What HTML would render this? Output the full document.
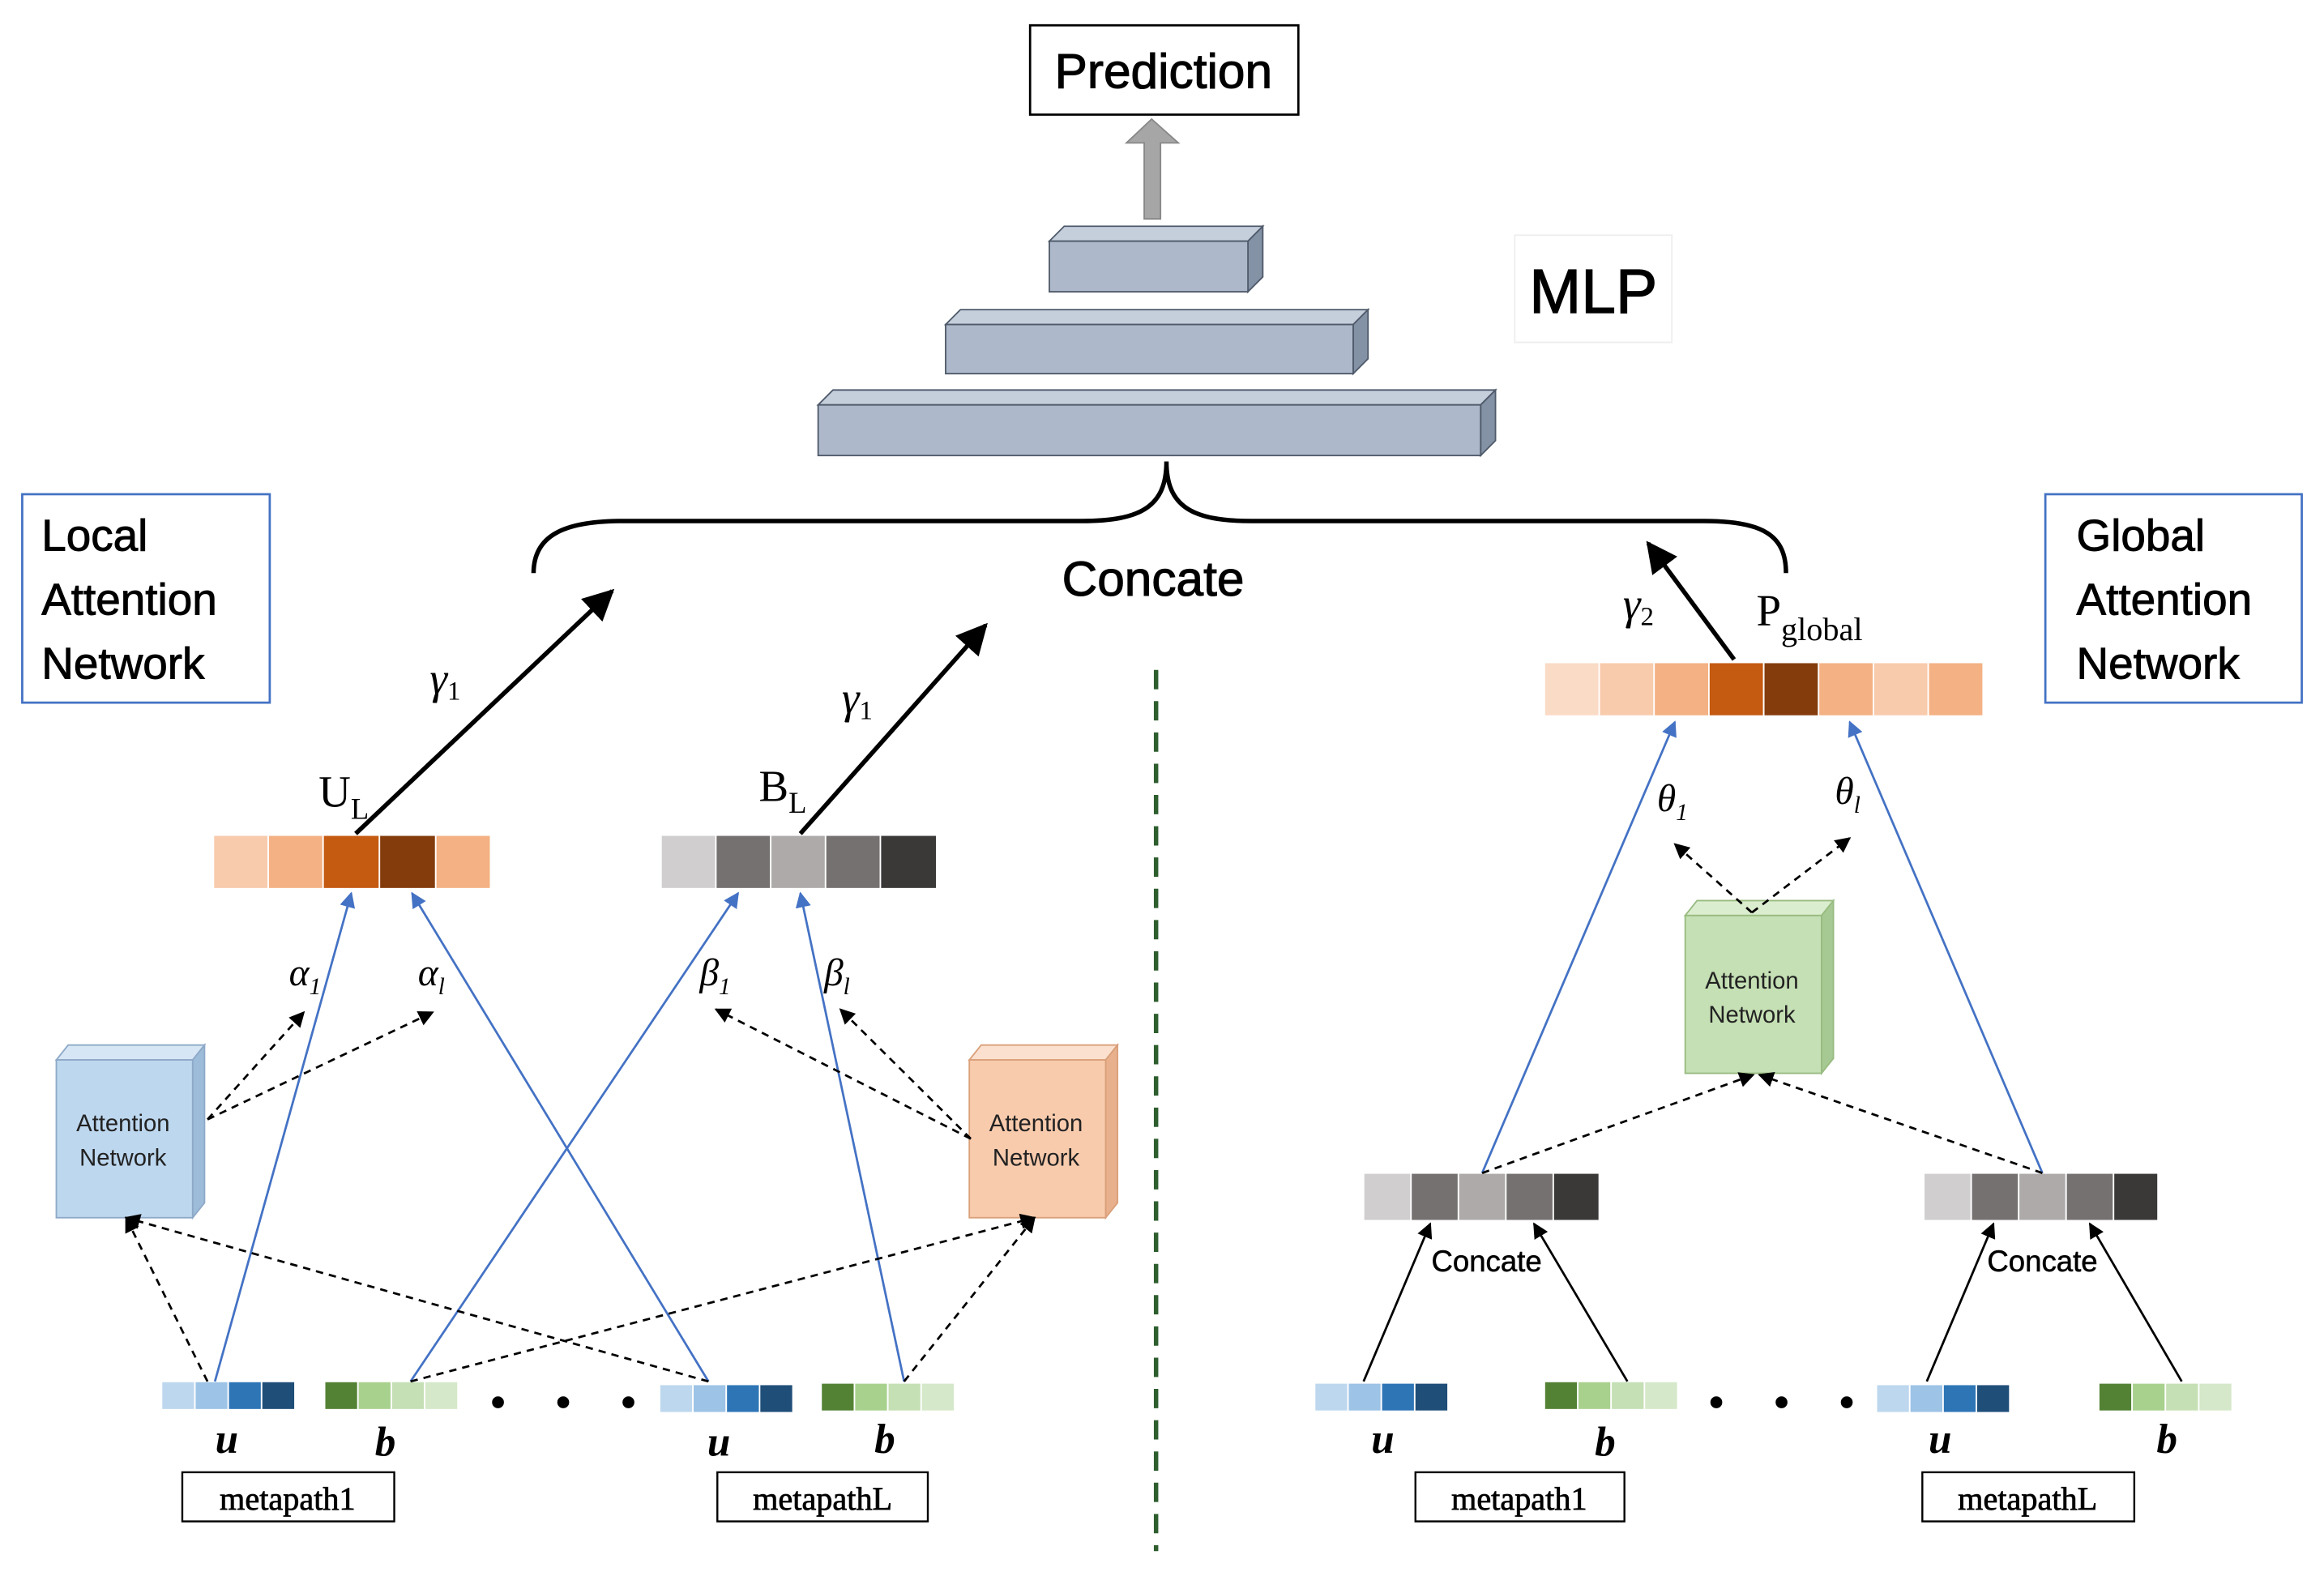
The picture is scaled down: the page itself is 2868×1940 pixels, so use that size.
<!DOCTYPE html>
<html><head><meta charset="utf-8"><style>
html,body{margin:0;padding:0;background:#fff;}
svg{display:block;}
.s{font-family:"Liberation Sans",sans-serif;}
.r{font-family:"Liberation Serif",serif;}
</style></head><body>
<svg width="2868" height="1940" viewBox="0 0 1568 1056" preserveAspectRatio="none" xmlns="http://www.w3.org/2000/svg">
<defs>
<marker id="ab" viewBox="0 0 10 10" refX="9" refY="5" markerWidth="7" markerHeight="7" orient="auto"><path d="M0,0L10,5L0,10z" fill="#000"/></marker>
<marker id="abl" viewBox="0 0 10 10" refX="9" refY="5" markerWidth="7" markerHeight="7" orient="auto"><path d="M0,0L10,5L0,10z" fill="#4472c4"/></marker>
</defs>
<rect width="1568" height="1056" fill="#fff"/>
<rect x="695" y="17" width="181" height="60" fill="#fff" stroke="#000" stroke-width="1.5"/>
<text x="785" y="59" class="s" font-size="33" text-anchor="middle" stroke="#000" stroke-width="0.6">Prediction</text>
<path d="M772,147V96H760L777,80L795,96H783V147Z" fill="#a6a6a6" stroke="#888" stroke-width="1"/>
<g fill="#adb9ca" stroke="#4f5a6a" stroke-width="1">
<path d="M708,162l10,-10h134l-10,10z" fill="#c5cfdc"/><path d="M842,162l10,-10v34l-10,10z" fill="#8492a6"/><rect x="708" y="162" width="134" height="34"/>
<path d="M638,218l10,-10h275l-10,10z" fill="#c5cfdc"/><path d="M913,218l10,-10v33l-10,10z" fill="#8492a6"/><rect x="638" y="218" width="275" height="33"/>
<path d="M552,272l10,-10h447l-10,10z" fill="#c5cfdc"/><path d="M999,272l10,-10v34l-10,10z" fill="#8492a6"/><rect x="552" y="272" width="447" height="34"/>
</g>
<rect x="1022" y="158" width="106" height="72" fill="#fff" stroke="#eee"/>
<text x="1075" y="210" class="s" font-size="42" text-anchor="middle" stroke="#000" stroke-width="0.7">MLP</text>
<path d="M360,385C360,360 380,350 420,350H730C770,350 787,340 787,310C787,340 804,350 844,350H1150C1190,350 1205,360 1205,385" fill="none" stroke="#000" stroke-width="3"/>
<text x="778" y="400" class="s" font-size="33" text-anchor="middle" stroke="#000" stroke-width="0.6">Concate</text>
<rect x="15" y="332" width="167" height="140" fill="#fff" stroke="#4472c4" stroke-width="1.5"/>
<text class="s" font-size="30" stroke="#000" stroke-width="0.5"><tspan x="28" y="370">Local</tspan><tspan x="28" y="413">Attention</tspan><tspan x="28" y="456">Network</tspan></text>
<rect x="1380" y="332" width="173" height="140" fill="#fff" stroke="#4472c4" stroke-width="1.5"/>
<text class="s" font-size="30" stroke="#000" stroke-width="0.5"><tspan x="1401" y="370">Global</tspan><tspan x="1401" y="413">Attention</tspan><tspan x="1401" y="456">Network</tspan></text>
<line x1="780" y1="450" x2="780" y2="1042" stroke="#2e5e2e" stroke-width="3" stroke-dasharray="13,8"/>
<g stroke="#fff" stroke-width="1">
<rect x="144" y="561" width="37" height="36" fill="#f8cbad"/><rect x="181" y="561" width="37" height="36" fill="#f4b183"/><rect x="218" y="561" width="38" height="36" fill="#c55a11"/><rect x="256" y="561" width="38" height="36" fill="#843c0c"/><rect x="294" y="561" width="37" height="36" fill="#f4b183"/>
<rect x="446" y="561" width="37" height="36" fill="#d0cece"/><rect x="483" y="561" width="37" height="36" fill="#767171"/><rect x="520" y="561" width="37" height="36" fill="#aeaaaa"/><rect x="557" y="561" width="37" height="36" fill="#767171"/><rect x="594" y="561" width="38" height="36" fill="#3b3838"/>
<rect x="1042" y="445" width="37" height="36" fill="#fadbc6"/><rect x="1079" y="445" width="37" height="36" fill="#f8cbad"/><rect x="1116" y="445" width="37" height="36" fill="#f4b183"/><rect x="1153" y="445" width="37" height="36" fill="#c55a11"/><rect x="1190" y="445" width="37" height="36" fill="#843c0c"/><rect x="1227" y="445" width="37" height="36" fill="#f4b183"/><rect x="1264" y="445" width="37" height="36" fill="#f8cbad"/><rect x="1301" y="445" width="37" height="36" fill="#f4b183"/>
<rect x="920" y="788" width="32" height="32" fill="#d0cece"/><rect x="952" y="788" width="32" height="32" fill="#767171"/><rect x="984" y="788" width="32" height="32" fill="#aeaaaa"/><rect x="1016" y="788" width="32" height="32" fill="#767171"/><rect x="1048" y="788" width="31" height="32" fill="#3b3838"/>
<rect x="1298" y="788" width="32" height="32" fill="#d0cece"/><rect x="1330" y="788" width="32" height="32" fill="#767171"/><rect x="1362" y="788" width="32" height="32" fill="#aeaaaa"/><rect x="1394" y="788" width="32" height="32" fill="#767171"/><rect x="1426" y="788" width="30" height="32" fill="#3b3838"/>
</g>
<g stroke="#fff" stroke-width="1">
<g transform="translate(109,928)"><rect width="22.5" height="19" fill="#bdd7ee"/><rect x="22.5" width="22.5" height="19" fill="#9dc3e6"/><rect x="45" width="22.5" height="19" fill="#2e75b6"/><rect x="67.5" width="22.5" height="19" fill="#1f4e79"/></g>
<g transform="translate(445,930)"><rect width="22.5" height="19" fill="#bdd7ee"/><rect x="22.5" width="22.5" height="19" fill="#9dc3e6"/><rect x="45" width="22.5" height="19" fill="#2e75b6"/><rect x="67.5" width="22.5" height="19" fill="#1f4e79"/></g>
<g transform="translate(887,929)"><rect width="22.5" height="19" fill="#bdd7ee"/><rect x="22.5" width="22.5" height="19" fill="#9dc3e6"/><rect x="45" width="22.5" height="19" fill="#2e75b6"/><rect x="67.5" width="22.5" height="19" fill="#1f4e79"/></g>
<g transform="translate(1266,930)"><rect width="22.5" height="19" fill="#bdd7ee"/><rect x="22.5" width="22.5" height="19" fill="#9dc3e6"/><rect x="45" width="22.5" height="19" fill="#2e75b6"/><rect x="67.5" width="22.5" height="19" fill="#1f4e79"/></g>
<g transform="translate(219,928)"><rect width="22.5" height="19" fill="#548235"/><rect x="22.5" width="22.5" height="19" fill="#a9d18e"/><rect x="45" width="22.5" height="19" fill="#c5e0b4"/><rect x="67.5" width="22.5" height="19" fill="#d5e8c9"/></g>
<g transform="translate(554,929)"><rect width="22.5" height="19" fill="#548235"/><rect x="22.5" width="22.5" height="19" fill="#a9d18e"/><rect x="45" width="22.5" height="19" fill="#c5e0b4"/><rect x="67.5" width="22.5" height="19" fill="#d5e8c9"/></g>
<g transform="translate(1042,928)"><rect width="22.5" height="19" fill="#548235"/><rect x="22.5" width="22.5" height="19" fill="#a9d18e"/><rect x="45" width="22.5" height="19" fill="#c5e0b4"/><rect x="67.5" width="22.5" height="19" fill="#d5e8c9"/></g>
<g transform="translate(1416,929)"><rect width="22.5" height="19" fill="#548235"/><rect x="22.5" width="22.5" height="19" fill="#a9d18e"/><rect x="45" width="22.5" height="19" fill="#c5e0b4"/><rect x="67.5" width="22.5" height="19" fill="#d5e8c9"/></g>
</g>
<g fill="#000"><circle cx="336" cy="942" r="4"/><circle cx="380" cy="942" r="4"/><circle cx="424" cy="942" r="4"/><circle cx="1158" cy="942" r="4"/><circle cx="1202" cy="942" r="4"/><circle cx="1246" cy="942" r="4"/></g>
<g class="r" font-size="28" font-style="italic" font-weight="bold" text-anchor="middle">
<text x="153" y="976">u</text><text x="260" y="978">b</text><text x="485" y="978">u</text><text x="597" y="976">b</text>
<text x="933" y="976">u</text><text x="1083" y="978">b</text><text x="1309" y="976">u</text><text x="1462" y="976">b</text>
</g>
<g fill="#fff" stroke="#000" stroke-width="1.3">
<rect x="123" y="989" width="143" height="33"/><rect x="484" y="989" width="142" height="33"/><rect x="955" y="989" width="141" height="33"/><rect x="1297" y="989" width="143" height="33"/>
</g>
<g class="r" font-size="22" text-anchor="middle" stroke="#000" stroke-width="0.4">
<text x="194" y="1014">metapath1</text><text x="555" y="1014">metapathL</text><text x="1025" y="1014">metapath1</text><text x="1368" y="1014">metapathL</text>
</g>
<g stroke="#8ea9c8" stroke-width="1">
<path d="M38,712l8,-10h92l-8,10z" fill="#d6e6f5"/><path d="M130,712l8,-10v106l-8,10z" fill="#9dbcd9"/><rect x="38" y="712" width="92" height="106" fill="#bdd7ee"/>
</g>
<g stroke="#d9a07a" stroke-width="1">
<path d="M654,712l8,-10h92l-8,10z" fill="#fbe0cf"/><path d="M746,712l8,-10v106l-8,10z" fill="#e8b08c"/><rect x="654" y="712" width="92" height="106" fill="#f8cbad"/>
</g>
<g stroke="#98bb80" stroke-width="1">
<path d="M1137,615l8,-10h92l-8,10z" fill="#dbedcf"/><path d="M1229,615l8,-10v106l-8,10z" fill="#a6c994"/><rect x="1137" y="615" width="92" height="106" fill="#c5e0b4"/>
</g>
<g class="s" font-size="16" text-anchor="middle" fill="#222">
<text x="83" y="760">Attention</text><text x="83" y="783">Network</text>
<text x="699" y="760">Attention</text><text x="699" y="783">Network</text>
<text x="1182" y="664">Attention</text><text x="1182" y="687">Network</text>
</g>
<g class="r" font-size="30">
<text x="215" y="542">U<tspan font-size="20" dy="8">L</tspan></text>
<text x="512" y="538">B<tspan font-size="20" dy="8">L</tspan></text>
<text x="1185" y="420">P<tspan font-size="22" dy="10">global</tspan></text>
</g>
<g class="r" font-size="30" font-style="italic">
<text x="290" y="466">γ<tspan font-size="18" dy="4" font-style="normal">1</tspan></text>
<text x="568" y="479">γ<tspan font-size="18" dy="4" font-style="normal">1</tspan></text>
<text x="1095" y="416">γ<tspan font-size="18" dy="4" font-style="normal">2</tspan></text>
</g>
<g class="r" font-size="26" font-style="italic">
<text x="195" y="662">α<tspan font-size="16" dy="6">1</tspan></text>
<text x="282" y="662">α<tspan font-size="16" dy="6">l</tspan></text>
<text x="472" y="662">β<tspan font-size="16" dy="6">1</tspan></text>
<text x="556" y="662">β<tspan font-size="16" dy="6">l</tspan></text>
<text x="1118" y="545">θ<tspan font-size="16" dy="6">1</tspan></text>
<text x="1238" y="540">θ<tspan font-size="16" dy="6">l</tspan></text>
</g>
<g class="s" font-size="20" text-anchor="middle" stroke="#000" stroke-width="0.3"><text x="1003" y="854">Concate</text><text x="1378" y="854">Concate</text></g>
<g stroke="#000" stroke-width="3" marker-end="url(#ab)">
<line x1="240" y1="560" x2="413" y2="397"/>
<line x1="540" y1="560" x2="665" y2="420"/>
<line x1="1170" y1="443" x2="1112" y2="365"/>
</g>
<g stroke="#000" stroke-width="1.5" marker-end="url(#ab)">
<line x1="920" y1="928" x2="965" y2="822"/><line x1="1098" y1="928" x2="1035" y2="822"/>
<line x1="1300" y1="928" x2="1345" y2="822"/><line x1="1472" y1="928" x2="1410" y2="822"/>
</g>
<g stroke="#4472c4" stroke-width="1.5" marker-end="url(#abl)">
<line x1="145" y1="928" x2="237" y2="600"/><line x1="478" y1="928" x2="278" y2="600"/>
<line x1="277" y1="928" x2="498" y2="600"/><line x1="610" y1="928" x2="540" y2="600"/>
<line x1="1000" y1="788" x2="1130" y2="485"/><line x1="1378" y1="788" x2="1248" y2="485"/>
</g>
<g stroke="#000" stroke-width="1.5" stroke-dasharray="5,4" marker-end="url(#ab)">
<line x1="140" y1="752" x2="205" y2="680"/><line x1="140" y1="752" x2="292" y2="680"/>
<line x1="655" y1="765" x2="483" y2="678"/><line x1="655" y1="765" x2="567" y2="678"/>
<line x1="140" y1="928" x2="85" y2="818"/><line x1="478" y1="928" x2="85" y2="818"/>
<line x1="277" y1="928" x2="698" y2="818"/><line x1="610" y1="928" x2="698" y2="818"/>
<line x1="1000" y1="788" x2="1183" y2="722"/><line x1="1378" y1="788" x2="1187" y2="722"/>
<line x1="1182" y1="613" x2="1130" y2="567"/><line x1="1182" y1="613" x2="1248" y2="563"/>
</g>
</svg>
</body></html>
